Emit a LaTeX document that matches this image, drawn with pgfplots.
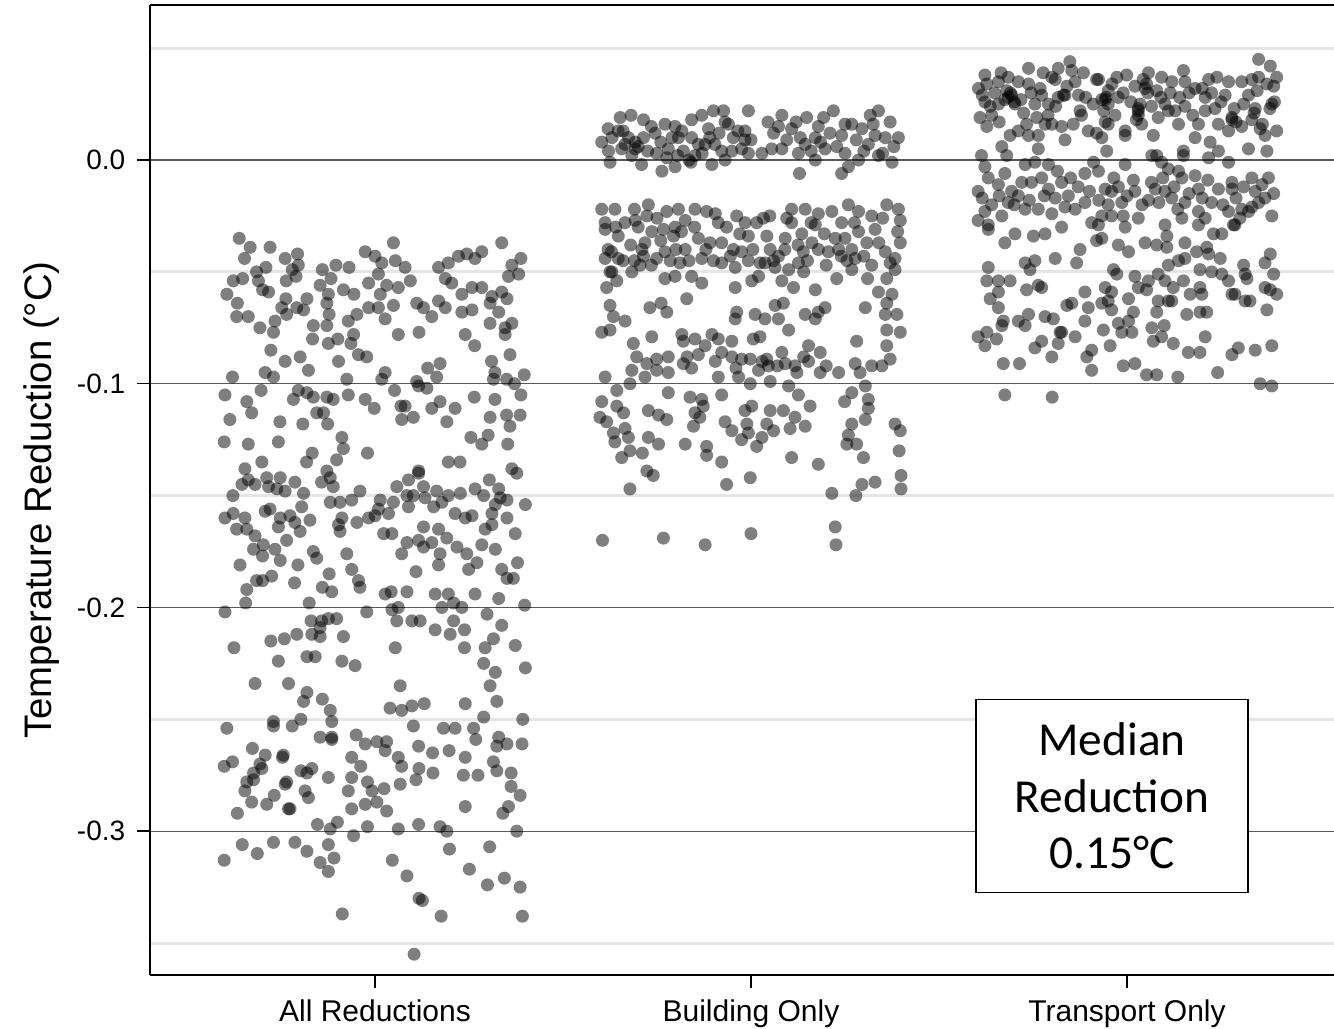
\documentclass[border=0pt]{standalone}
\usepackage{fontspec}
\setmainfont{Liberation Sans}
\newfontfamily\calibri{Carlito}
\usepackage{pgfplots}
\pgfplotsset{compat=1.18}
\begin{document}
\begin{tikzpicture}
\begin{axis}[
  name=ax,
  scale only axis,
  width=355.2pt, height=291pt,
  xmin=0.4016, xmax=3.5505,
  ymin=-0.3643, ymax=0.0693,
  axis x line*=bottom, axis y line*=left,
  axis line style={black, line width=0.45pt, -},
  xtick={1,2,3},
  xticklabels={All Reductions, Building Only, Transport Only},
  ytick={-0.3,-0.2,-0.1,0},
  yticklabels={-0.3,-0.2,-0.1,0.0},
  minor ytick={-0.35,-0.25,-0.15,-0.05,0.05},
  ymajorgrids, yminorgrids,
  major grid style={line width=0.35pt, color=black!65},
  minor grid style={line width=0.9pt, color=black!10},
  tick align=outside,
  major tick length=3.9pt,
  minor tick length=0pt,
  tick style={black, line width=0.45pt},
  xticklabel style={font=\fontsize{9}{10}\selectfont},
  yticklabel style={font=\fontsize{8.4}{9}\selectfont},
  ylabel={Temperature Reduction (°C)},
  ylabel style={font=\fontsize{11.5}{13}\selectfont, yshift=-1.5pt, xshift=-3pt},
  pt/.style={only marks, mark=*, mark size=1.95pt,
    mark options={fill=black, fill opacity=0.5, draw opacity=0}},
]
% All Reductions
\addplot[pt] coordinates {
(0.639,-0.035) (0.668,-0.039) (0.653,-0.044) (0.721,-0.039) (0.761,-0.044) (0.794,-0.042) (0.796,-0.047) (0.780,-0.049)
(0.790,-0.052) (0.685,-0.050) (0.710,-0.048) (0.623,-0.054) (0.648,-0.053) (0.690,-0.054) (0.701,-0.058) (0.717,-0.059)
(0.606,-0.060) (0.634,-0.064) (0.632,-0.070) (0.663,-0.070) (0.694,-0.075) (0.730,-0.077) (0.734,-0.072) (0.752,-0.066)
(0.765,-0.069) (0.792,-0.066) (0.810,-0.067) (0.819,-0.062) (0.763,-0.062) (0.764,-0.054) (0.860,-0.049) (0.896,-0.047)
(0.931,-0.048) (0.883,-0.053) (0.854,-0.056) (0.876,-0.060) (0.872,-0.064) (0.878,-0.069) (0.836,-0.074) (0.872,-0.074)
(0.834,-0.080) (0.876,-0.082) (0.901,-0.080) (0.916,-0.058) (0.944,-0.060) (0.952,-0.069) (0.929,-0.072) (0.943,-0.078)
(0.936,-0.082) (0.974,-0.041) (1.000,-0.043) (1.049,-0.037) (1.018,-0.046) (1.054,-0.045) (1.080,-0.048) (1.009,-0.051)
(1.031,-0.056) (1.014,-0.060) (1.062,-0.057) (1.094,-0.054) (0.983,-0.055) (0.983,-0.066) (1.009,-0.066) (1.027,-0.071)
(1.049,-0.065) (1.111,-0.064) (1.129,-0.066) (1.151,-0.070) (1.062,-0.078) (1.117,-0.077) (1.169,-0.048) (1.195,-0.046)
(1.222,-0.043) (1.244,-0.042) (1.266,-0.044) (1.284,-0.041) (1.337,-0.037) (1.364,-0.047) (1.388,-0.044) (1.382,-0.051)
(1.355,-0.052) (1.187,-0.053) (1.204,-0.055) (1.231,-0.060) (1.258,-0.057) (1.284,-0.057) (1.311,-0.061) (1.306,-0.064)
(1.337,-0.059) (1.351,-0.062) (1.329,-0.068) (1.258,-0.067) (1.231,-0.068) (1.187,-0.066) (1.169,-0.063) (1.306,-0.073)
(1.346,-0.075) (1.364,-0.073) (1.240,-0.078) (1.265,-0.083) (1.346,-0.078)
(0.723,-0.085) (0.761,-0.090) (0.801,-0.088) (0.823,-0.094) (0.708,-0.095) (0.730,-0.097) (0.621,-0.097) (0.697,-0.103)
(0.601,-0.105) (0.659,-0.108) (0.672,-0.113) (0.783,-0.107) (0.796,-0.103) (0.819,-0.104) (0.836,-0.106) (0.872,-0.106)
(0.889,-0.107) (0.845,-0.113) (0.863,-0.113) (0.874,-0.118) (0.929,-0.105) (0.925,-0.098) (0.903,-0.090) (0.956,-0.087)
(0.978,-0.088) (0.974,-0.107) (0.998,-0.111) (0.614,-0.116) (0.747,-0.117) (0.808,-0.118) (0.599,-0.126) (0.663,-0.127)
(0.743,-0.126) (0.912,-0.124) (0.916,-0.129) (0.833,-0.131) (0.818,-0.135) (0.898,-0.134) (0.872,-0.139) (0.980,-0.131)
(1.018,-0.098) (1.027,-0.095) (1.052,-0.103) (1.069,-0.110) (1.080,-0.110) (1.071,-0.116) (1.102,-0.115) (1.116,-0.101)
(1.111,-0.099) (1.138,-0.102) (1.140,-0.093) (1.173,-0.091) (1.164,-0.097) (1.173,-0.108) (1.151,-0.111) (1.213,-0.111)
(1.191,-0.117) (1.264,-0.106) (1.319,-0.107) (1.306,-0.115) (1.350,-0.114) (1.386,-0.114) (1.359,-0.119) (1.310,-0.090)
(1.319,-0.095) (1.315,-0.098) (1.350,-0.098) (1.371,-0.100) (1.388,-0.105) (1.397,-0.096) (1.359,-0.087) (1.255,-0.124)
(1.284,-0.127) (1.301,-0.123) (1.353,-0.127) (1.195,-0.135) (1.226,-0.135) (0.699,-0.135) (0.654,-0.138) (1.116,-0.139)
(1.364,-0.138)
(0.646,-0.145) (0.663,-0.143) (0.681,-0.145) (0.712,-0.142) (0.748,-0.142) (0.717,-0.146) (0.739,-0.147) (0.761,-0.148)
(0.787,-0.144) (0.810,-0.149) (0.805,-0.155) (0.858,-0.144) (0.881,-0.142) (0.889,-0.146) (0.622,-0.150) (0.623,-0.158)
(0.601,-0.160) (0.654,-0.160) (0.632,-0.165) (0.659,-0.165) (0.681,-0.168) (0.708,-0.157) (0.721,-0.156) (0.748,-0.160)
(0.774,-0.159) (0.787,-0.162) (0.801,-0.166) (0.827,-0.161) (0.743,-0.164) (0.765,-0.170) (0.703,-0.172) (0.677,-0.174)
(0.734,-0.174) (0.748,-0.179) (0.701,-0.177) (0.641,-0.181) (0.685,-0.188) (0.725,-0.186) (0.701,-0.188) (0.659,-0.192)
(0.656,-0.198) (0.601,-0.202) (0.625,-0.218) (0.795,-0.181) (0.786,-0.189) (0.836,-0.175) (0.845,-0.178) (0.878,-0.185)
(0.860,-0.191) (0.885,-0.193) (0.825,-0.198) (0.881,-0.153) (0.907,-0.153) (0.938,-0.152) (0.960,-0.148) (0.912,-0.160)
(0.903,-0.163) (0.907,-0.166) (0.952,-0.162) (0.983,-0.160) (1.000,-0.159) (1.014,-0.152) (1.009,-0.156) (1.036,-0.158)
(1.049,-0.153) (1.023,-0.167) (1.045,-0.167) (1.058,-0.146) (1.089,-0.143) (1.116,-0.140) (1.129,-0.146) (1.085,-0.150)
(1.089,-0.155) (1.102,-0.150) (1.133,-0.151) (1.164,-0.148) (1.156,-0.155) (1.195,-0.150) (1.178,-0.153) (1.227,-0.149)
(1.213,-0.158) (1.240,-0.160) (1.258,-0.159) (1.266,-0.147) (1.304,-0.143) (1.289,-0.150) (1.329,-0.147) (1.333,-0.151)
(1.351,-0.152) (1.320,-0.154) (1.311,-0.158) (1.351,-0.160) (1.400,-0.154) (1.377,-0.140) (1.293,-0.165) (1.311,-0.163)
(1.373,-0.167) (1.129,-0.164) (1.116,-0.170) (1.129,-0.173) (1.151,-0.171) (1.169,-0.165) (1.191,-0.169) (1.218,-0.173)
(1.244,-0.176) (1.284,-0.172) (1.320,-0.174) (1.173,-0.176) (1.169,-0.181) (1.249,-0.183) (1.271,-0.180) (1.337,-0.183)
(1.351,-0.187) (1.368,-0.187) (1.379,-0.180) (1.085,-0.171) (1.071,-0.176) (1.109,-0.184) (0.925,-0.176) (0.938,-0.183)
(0.956,-0.188) (0.960,-0.191) (1.027,-0.194) (1.043,-0.193) (1.085,-0.193) (1.045,-0.201) (1.062,-0.200) (1.058,-0.206)
(1.098,-0.206) (1.120,-0.206) (0.978,-0.202) (1.160,-0.194) (1.195,-0.194) (1.209,-0.198) (1.231,-0.200) (1.178,-0.200)
(1.266,-0.194) (1.329,-0.196) (1.398,-0.199) (1.298,-0.203) (1.337,-0.208) (1.315,-0.214) (1.293,-0.218) (1.373,-0.217)
(1.209,-0.206) (1.238,-0.210) (1.200,-0.212) (1.160,-0.210) (1.238,-0.218) (1.289,-0.225) (1.320,-0.229) (1.306,-0.235)
(1.400,-0.227) (0.830,-0.206) (0.858,-0.206) (0.876,-0.205) (0.898,-0.205) (0.854,-0.209) (0.832,-0.212) (0.854,-0.213)
(0.792,-0.212) (0.759,-0.214) (0.723,-0.215) (0.916,-0.213) (0.819,-0.222) (0.841,-0.222) (0.743,-0.224) (0.912,-0.224)
(0.947,-0.226) (1.054,-0.218) (0.681,-0.234) (0.770,-0.234) (0.819,-0.238) (0.810,-0.242) (0.860,-0.241) (0.881,-0.246)
(1.067,-0.235) (1.040,-0.245) (1.071,-0.246) (1.098,-0.244) (1.131,-0.243) (1.240,-0.243) (1.324,-0.242)
(0.606,-0.254) (0.730,-0.251) (0.730,-0.253) (0.780,-0.253) (0.803,-0.250) (0.885,-0.251) (0.854,-0.258) (0.885,-0.258)
(0.885,-0.259) (0.674,-0.263) (0.708,-0.266) (0.754,-0.267) (0.756,-0.266) (0.621,-0.269) (0.599,-0.271) (0.694,-0.270)
(0.677,-0.274) (0.699,-0.272) (0.659,-0.278) (0.677,-0.277) (0.654,-0.282) (0.672,-0.287) (0.712,-0.288) (0.732,-0.284)
(0.761,-0.279) (0.765,-0.278) (0.770,-0.290) (0.774,-0.290) (0.803,-0.273) (0.819,-0.274) (0.832,-0.272) (0.814,-0.282)
(0.823,-0.285) (0.876,-0.276) (0.634,-0.292) (0.647,-0.306) (0.687,-0.310) (0.599,-0.313) (0.730,-0.305) (0.787,-0.305)
(0.819,-0.309) (0.854,-0.314) (0.876,-0.318) (0.891,-0.312) (0.876,-0.306) (0.847,-0.297) (0.881,-0.299) (0.900,-0.296)
(0.938,-0.267) (0.962,-0.271) (0.950,-0.257) (0.974,-0.261) (1.005,-0.260) (1.031,-0.260) (1.027,-0.264) (1.062,-0.267)
(1.071,-0.271) (0.938,-0.276) (0.929,-0.282) (0.980,-0.278) (0.992,-0.282) (1.005,-0.287) (0.974,-0.288) (0.938,-0.290)
(1.024,-0.281) (1.067,-0.279) (1.031,-0.291) (0.980,-0.298) (0.943,-0.302) (1.062,-0.299) (1.116,-0.297) (1.102,-0.253)
(1.116,-0.262) (1.117,-0.272) (1.153,-0.265) (1.154,-0.274) (1.109,-0.277) (1.182,-0.254) (1.213,-0.254) (1.197,-0.264)
(1.240,-0.267) (1.235,-0.275) (1.274,-0.275) (1.262,-0.254) (1.268,-0.259) (1.289,-0.249) (1.329,-0.258) (1.324,-0.262)
(1.351,-0.261) (1.315,-0.269) (1.324,-0.273) (1.362,-0.274) (1.362,-0.280) (1.386,-0.284) (1.391,-0.261) (1.393,-0.250)
(1.240,-0.289) (1.355,-0.289) (1.340,-0.292) (1.173,-0.298) (1.191,-0.300) (1.198,-0.308) (1.305,-0.307) (1.377,-0.300)
(1.046,-0.313) (1.085,-0.320) (1.117,-0.330) (1.126,-0.331) (1.251,-0.317) (1.299,-0.324) (1.344,-0.321) (1.386,-0.325)
(0.913,-0.337) (1.176,-0.338) (1.392,-0.338) (1.104,-0.355)
};
% Building Only
\addplot[pt] coordinates {
(1.652,0.019) (1.681,0.020) (1.714,0.018) (1.647,0.013) (1.674,0.010) (1.692,0.008) (1.714,0.010) (1.665,0.007)
(1.603,0.008) (1.621,0.004) (1.625,-0.001) (1.656,0.005) (1.683,0.002) (1.709,-0.002) (1.692,0.005) (1.745,0.012)
(1.771,0.016) (1.798,0.015) (1.749,0.003) (1.763,-0.005) (1.776,0.001) (1.798,-0.003) (1.780,0.005) (1.807,0.010)
(1.816,0.013) (1.842,0.018) (1.869,0.020) (1.900,0.022) (1.927,0.022) (1.931,0.017) (1.887,0.014) (1.842,0.010)
(1.860,0.007) (1.878,0.007) (1.904,0.007) (1.851,0.002) (1.896,-0.002) (1.931,0.000) (1.922,0.004) (1.953,0.010)
(1.984,0.013) (1.984,0.009) (1.975,0.005) (1.993,0.003) (1.949,0.004) (1.993,0.022) (2.045,0.017) (2.029,0.003)
(2.055,0.005) (2.082,0.005) (2.073,0.015) (2.082,0.020) (2.108,0.014) (2.131,0.010) (2.148,0.019) (2.179,0.015)
(2.193,0.019) (2.219,0.022) (2.171,0.010) (2.144,0.007) (2.126,0.003) (2.171,0.000) (2.197,0.005) (2.228,0.006)
(2.250,0.003) (2.241,0.011) (2.268,0.016) (2.295,0.014) (2.317,0.020) (2.339,0.022) (2.370,0.017) (2.330,0.011)
(2.357,0.010) (2.392,0.010) (2.312,0.007) (2.339,0.002) (2.375,-0.001) (2.286,0.000) (2.259,-0.003) (2.241,-0.006)
(2.129,-0.006)
(1.630,0.010) (1.660,0.013) (1.700,0.006) (1.725,0.004) (1.735,0.015) (1.760,0.008) (1.790,0.010) (1.820,0.004)
(1.835,0.000) (1.870,0.003) (1.890,0.010) (1.915,0.012) (1.940,0.016) (1.965,0.013) (2.000,0.009) (2.060,0.012)
(2.095,0.009) (2.120,0.017) (2.160,0.004) (2.185,0.008) (2.210,0.012) (2.250,0.016) (2.280,0.009) (2.300,0.004)
(2.325,0.016) (2.350,0.003) (2.380,0.006) (1.620,0.014) (1.840,-0.001) (1.805,0.002)
(1.603,-0.022) (1.638,-0.022) (1.612,-0.028) (1.612,-0.031) (1.647,-0.034) (1.690,-0.022) (1.727,-0.020) (1.692,-0.027)
(1.723,-0.025) (1.665,-0.028) (1.629,-0.041) (1.612,-0.044) (1.647,-0.044) (1.625,-0.050) (1.643,-0.054) (1.616,-0.057)
(1.683,-0.050) (1.714,-0.043) (1.705,-0.047) (1.736,-0.032) (1.718,-0.037) (1.749,-0.044) (1.771,-0.041) (1.794,-0.034)
(1.776,-0.023) (1.807,-0.022) (1.825,-0.027) (1.851,-0.022) (1.882,-0.023) (1.798,-0.030) (1.767,-0.031) (1.825,-0.040)
(1.811,-0.046) (1.771,-0.053) (1.798,-0.052) (1.842,-0.052) (1.869,-0.055) (1.869,-0.044) (1.860,-0.035) (1.891,-0.037)
(1.922,-0.037) (1.913,-0.028) (1.962,-0.025) (1.984,-0.028) (1.993,-0.034) (2.033,-0.026) (1.975,-0.041) (1.953,-0.040)
(1.922,-0.046) (1.958,-0.048) (1.993,-0.045) (2.024,-0.046) (2.042,-0.034) (2.020,-0.052) (2.002,-0.054) (1.958,-0.057)
(2.051,-0.040) (2.073,-0.043) (2.091,-0.035) (2.108,-0.022) (2.144,-0.022) (2.179,-0.024) (2.108,-0.028) (2.135,-0.033)
(2.162,-0.037) (2.171,-0.029) (2.215,-0.023) (2.241,-0.028) (2.259,-0.020) (2.286,-0.023) (2.321,-0.025) (2.361,-0.020)
(2.392,-0.022) (2.397,-0.027) (2.286,-0.032) (2.308,-0.037) (2.330,-0.031) (2.224,-0.035) (2.233,-0.040) (2.206,-0.041)
(2.179,-0.040) (2.139,-0.041) (2.126,-0.046) (2.100,-0.049) (2.064,-0.048) (2.037,-0.046) (2.082,-0.054) (2.113,-0.057)
(2.171,-0.058) (2.228,-0.053) (2.268,-0.049) (2.277,-0.044) (2.321,-0.047) (2.357,-0.041) (2.383,-0.044) (2.397,-0.037)
(2.383,-0.049) (2.361,-0.053) (2.339,-0.059) (2.375,-0.060) (2.361,-0.064) (2.304,-0.066) (2.268,-0.040)
(1.620,-0.040) (1.640,-0.030) (1.660,-0.045) (1.680,-0.038) (1.700,-0.030) (1.710,-0.040) (1.735,-0.047) (1.750,-0.026)
(1.760,-0.036) (1.785,-0.045) (1.800,-0.040) (1.815,-0.032) (1.835,-0.045) (1.850,-0.030) (1.880,-0.040) (1.900,-0.045)
(1.905,-0.024) (1.935,-0.030) (1.945,-0.043) (1.970,-0.033) (2.005,-0.040) (2.015,-0.028) (2.050,-0.025) (2.060,-0.045)
(2.090,-0.040) (2.095,-0.026) (2.125,-0.038) (2.150,-0.045) (2.160,-0.028) (2.195,-0.033) (2.200,-0.047) (2.250,-0.035)
(2.255,-0.045) (2.275,-0.028) (2.300,-0.043) (2.340,-0.037) (2.350,-0.026) (2.370,-0.046) (2.390,-0.032) (2.310,-0.053)
(1.630,-0.050) (1.690,-0.045) (2.140,-0.050) (2.240,-0.043)
(1.625,-0.065) (1.634,-0.070) (1.665,-0.072) (1.731,-0.066) (1.761,-0.064) (1.776,-0.068) (1.829,-0.062) (1.962,-0.068)
(1.958,-0.071) (2.011,-0.069) (2.037,-0.071) (2.064,-0.065) (2.086,-0.064) (2.073,-0.071) (2.144,-0.069) (2.179,-0.068)
(2.197,-0.066) (2.171,-0.071) (2.357,-0.069) (2.388,-0.069)
(1.603,-0.077) (1.625,-0.076) (1.687,-0.082) (1.736,-0.079) (1.816,-0.078) (1.820,-0.081) (1.851,-0.080) (1.896,-0.078)
(1.913,-0.080) (1.949,-0.081) (2.006,-0.080) (2.024,-0.079) (2.100,-0.076) (1.696,-0.088) (1.683,-0.094) (1.723,-0.091)
(1.749,-0.089) (1.780,-0.088) (1.749,-0.094) (1.780,-0.095) (1.718,-0.097) (1.612,-0.097) (1.678,-0.100) (1.820,-0.091)
(1.842,-0.093) (1.860,-0.087) (1.878,-0.083) (1.922,-0.086) (1.949,-0.088) (1.975,-0.089) (1.998,-0.089) (2.042,-0.089)
(2.020,-0.094) (2.046,-0.092) (2.082,-0.086) (2.091,-0.091) (2.117,-0.092) (2.153,-0.083) (2.153,-0.090) (2.184,-0.086)
(2.122,-0.095) (2.184,-0.095) (2.233,-0.095) (2.281,-0.081) (2.277,-0.091) (2.290,-0.095) (2.321,-0.092) (2.348,-0.092)
(2.370,-0.089) (2.361,-0.083) (2.397,-0.077) (2.361,-0.076) (1.967,-0.097) (1.998,-0.100) (2.051,-0.099) (1.913,-0.097)
(1.830,-0.088) (1.905,-0.090) (1.960,-0.093) (2.030,-0.090) (2.070,-0.092) (2.140,-0.088) (2.200,-0.092)
(1.922,-0.105) (2.100,-0.101) (2.126,-0.105) (2.157,-0.110) (1.780,-0.104) (1.643,-0.103) (1.603,-0.108) (1.643,-0.110)
(1.661,-0.113) (1.598,-0.115) (1.616,-0.117) (1.634,-0.122) (1.638,-0.126) (1.665,-0.120) (1.674,-0.124) (1.678,-0.130)
(1.656,-0.133) (1.711,-0.131) (1.727,-0.124) (1.754,-0.127) (1.723,-0.139) (1.740,-0.141) (1.678,-0.147) (1.727,-0.112)
(1.754,-0.114) (1.776,-0.116) (1.838,-0.106) (1.869,-0.107) (1.873,-0.110) (1.851,-0.113) (1.864,-0.115) (1.847,-0.119)
(1.825,-0.127) (1.882,-0.128) (1.882,-0.132) (1.922,-0.135) (1.931,-0.117) (1.949,-0.121) (1.975,-0.125) (1.993,-0.122)
(1.984,-0.112) (2.002,-0.110) (1.989,-0.118) (2.015,-0.128) (2.029,-0.124) (2.042,-0.118) (2.060,-0.121) (2.051,-0.112)
(2.086,-0.112) (2.104,-0.120) (2.117,-0.115) (2.144,-0.119) (2.108,-0.133) (2.179,-0.136) (2.249,-0.108) (2.268,-0.104)
(2.304,-0.101) (2.312,-0.107) (2.312,-0.111) (2.304,-0.116) (2.268,-0.118) (2.259,-0.123) (2.255,-0.127) (2.281,-0.127)
(2.299,-0.133) (2.383,-0.118) (2.397,-0.121) (2.394,-0.130) (2.399,-0.141) (2.399,-0.147) (2.330,-0.144) (2.295,-0.145)
(2.215,-0.149) (2.279,-0.150) (1.998,-0.142) (1.935,-0.145) (1.605,-0.170) (1.767,-0.169) (1.878,-0.172) (2.000,-0.167)
(2.224,-0.164) (2.226,-0.172)
};
% Transport Only
\addplot[pt] coordinates {
(2.622,0.038) (2.665,0.039) (2.605,0.032) (2.627,0.034) (2.658,0.035) (2.684,0.037) (2.711,0.035) (2.693,0.029)
(2.675,0.027) (2.622,0.026) (2.636,0.024) (2.609,0.019) (2.627,0.015) (2.658,0.025) (2.702,0.025) (2.738,0.041)
(2.777,0.039) (2.800,0.037) (2.817,0.041) (2.848,0.044) (2.853,0.040) (2.884,0.039) (2.773,0.029) (2.755,0.025)
(2.791,0.025) (2.817,0.028) (2.835,0.029) (2.871,0.029) (2.875,0.022) (2.809,0.036) (2.738,0.034) (2.689,0.011)
(2.711,0.013) (2.733,0.016) (2.738,0.011) (2.764,0.011) (2.782,0.016) (2.800,0.016) (2.826,0.015) (2.857,0.016)
(2.879,0.020) (2.835,0.009) (2.764,0.005) (2.667,0.006) (2.680,0.002) (2.924,0.036) (2.973,0.037) (2.999,0.038)
(2.950,0.031) (2.933,0.027) (2.950,0.025) (2.977,0.028) (2.968,0.020) (2.942,0.017) (2.919,0.012) (2.897,0.013)
(2.933,0.010) (2.950,0.016) (2.995,0.013) (3.030,0.023) (3.039,0.016) (3.030,0.020) (3.057,0.039) (3.048,0.032)
(3.052,0.034) (3.079,0.031) (3.021,0.033) (3.092,0.037) (3.119,0.035) (3.101,0.025) (3.128,0.022) (3.150,0.040)
(3.154,0.035) (3.137,0.016) (3.083,0.019) (3.070,0.011) (3.079,0.002) (3.150,0.004) (3.181,0.010) (3.190,0.016)
(3.181,0.032) (3.217,0.036) (3.239,0.037) (3.270,0.035) (3.208,0.028) (3.208,0.022) (3.234,0.023) (3.243,0.016)
(3.279,0.019) (3.305,0.015) (3.270,0.013) (3.261,0.029) (3.305,0.035) (3.332,0.036) (3.350,0.037) (3.350,0.045)
(3.381,0.042) (3.398,0.037) (3.390,0.033) (3.323,0.029) (3.341,0.023) (3.385,0.025) (3.332,0.018) (3.354,0.014)
(3.367,0.011) (3.398,0.013) (3.221,0.008) (3.243,0.004) (3.270,-0.001) (3.217,0.001) (3.323,0.005) (3.372,0.004)
(3.154,0.024) (2.995,0.011) (2.946,0.004) (2.919,0.036) (2.684,0.028) (3.030,0.022) (3.279,0.018) (2.942,0.027)
(2.831,0.029) (3.110,0.022)
(2.690,0.030) (2.700,0.026) (2.680,0.031) (2.648,0.030) (2.718,0.027) (2.745,0.030) (2.769,0.032) (2.790,0.020)
(2.810,0.024) (2.840,0.033) (2.862,0.035) (2.890,0.028) (2.910,0.025) (2.938,0.022) (2.944,0.028) (2.960,0.034)
(2.990,0.030) (3.010,0.026) (3.025,0.018) (3.035,0.025) (3.043,0.036) (3.055,0.030) (3.065,0.024) (3.090,0.028)
(3.115,0.030) (3.140,0.028) (3.165,0.030) (3.175,0.020) (3.200,0.032) (3.225,0.030) (3.250,0.026) (3.285,0.023)
(3.290,0.017) (3.310,0.025) (3.338,0.021) (3.360,0.016) (3.380,0.023) (3.392,0.026) (3.346,0.031) (3.372,0.034)
(2.615,0.029) (2.640,0.020) (2.660,0.017) (2.725,0.021) (2.760,0.019)
(2.613,0.002) (2.622,-0.003) (2.604,-0.014) (2.631,-0.008) (2.658,-0.011) (2.675,-0.006) (2.693,-0.014) (2.684,-0.019)
(2.711,-0.016) (2.667,-0.025) (2.622,-0.023) (2.631,-0.029) (2.604,-0.027) (2.729,-0.002) (2.755,-0.001) (2.791,-0.002)
(2.773,-0.008) (2.746,-0.010) (2.791,-0.013) (2.809,-0.017) (2.826,-0.010) (2.844,-0.016) (2.835,-0.021) (2.800,-0.024)
(2.764,-0.022) (2.729,-0.022) (2.862,-0.022) (2.888,-0.019) (2.911,-0.001) (2.888,-0.006) (2.924,-0.005) (2.942,-0.013)
(2.959,-0.014) (2.977,-0.012) (2.995,-0.002) (3.017,-0.009) (3.021,-0.014) (2.986,-0.019) (2.959,-0.025) (2.990,-0.025)
(2.933,-0.025) (2.906,-0.028) (3.030,-0.026) (3.057,-0.018) (3.075,-0.013) (3.101,-0.014) (3.119,-0.017) (3.146,-0.008)
(3.137,-0.005) (3.181,-0.007) (3.190,-0.013) (3.154,-0.019) (3.190,-0.023) (3.225,-0.019) (3.243,-0.013) (3.279,-0.013)
(3.208,-0.026) (3.270,-0.023) (3.305,-0.022) (3.332,-0.021) (3.279,-0.010) (3.332,-0.008) (3.359,-0.011) (3.376,-0.008)
(3.367,-0.017) (3.385,-0.025) (3.341,-0.014) (3.101,-0.029) (3.146,-0.026) (3.092,-0.001) (3.110,-0.004) (3.066,0.002)
(3.150,0.002) (3.287,-0.029) (3.323,-0.023)
(2.615,-0.017) (2.640,-0.020) (2.660,-0.016) (2.700,-0.020) (2.720,-0.010) (2.740,-0.018) (2.780,-0.016) (2.815,-0.005)
(2.850,-0.008) (2.870,-0.012) (2.900,-0.014) (2.925,-0.018) (2.950,-0.020) (2.965,-0.008) (3.000,-0.016) (3.040,-0.020)
(3.065,-0.010) (3.085,-0.019) (3.095,-0.008) (3.125,-0.012) (3.135,-0.022) (3.165,-0.015) (3.200,-0.017) (3.215,-0.009)
(3.255,-0.020) (3.290,-0.017) (3.310,-0.012) (3.350,-0.019) (3.390,-0.015) (3.300,-0.026)
(2.924,-0.029) (2.995,-0.030) (3.190,-0.029) (3.283,-0.029) (2.826,-0.030)
(2.631,-0.031) (2.675,-0.037) (2.702,-0.033) (2.751,-0.034) (2.782,-0.033) (2.919,-0.036) (2.933,-0.035) (2.977,-0.038)
(3.004,-0.041) (3.048,-0.037) (3.079,-0.038) (3.106,-0.039) (3.106,-0.034) (3.154,-0.037) (3.185,-0.041) (3.212,-0.039)
(3.230,-0.033) (3.252,-0.033) (3.217,-0.042) (3.248,-0.044) (2.875,-0.040) (2.866,-0.046) (2.809,-0.044) (2.729,-0.046)
(2.755,-0.045) (2.742,-0.049) (2.631,-0.048) (2.627,-0.054) (2.658,-0.054) (2.689,-0.054) (2.658,-0.059) (2.636,-0.062)
(2.658,-0.066) (2.733,-0.058) (2.764,-0.056) (2.773,-0.057) (2.840,-0.065) (2.853,-0.064) (2.888,-0.059) (2.897,-0.066)
(2.933,-0.064) (2.942,-0.057) (2.959,-0.059) (2.950,-0.063) (2.964,-0.049) (2.973,-0.051) (3.004,-0.062) (3.021,-0.052)
(3.030,-0.057) (3.052,-0.058) (3.057,-0.054) (3.083,-0.051) (3.101,-0.054) (3.110,-0.047) (3.137,-0.045) (3.154,-0.044)
(3.150,-0.054) (3.083,-0.063) (3.110,-0.063) (3.123,-0.057) (3.119,-0.063) (3.079,-0.068) (3.017,-0.068) (3.004,-0.072)
(2.977,-0.073) (2.959,-0.067) (2.986,-0.077) (3.013,-0.077) (2.937,-0.076) (2.955,-0.083) (2.888,-0.072) (2.862,-0.079)
(2.822,-0.077) (2.817,-0.082) (2.804,-0.071) (2.782,-0.070) (2.773,-0.081) (2.755,-0.084) (2.738,-0.069) (2.729,-0.074)
(2.711,-0.072) (2.671,-0.072) (2.667,-0.074) (2.627,-0.077) (2.604,-0.079) (2.622,-0.083) (2.653,-0.080) (2.671,-0.091)
(2.714,-0.091) (2.800,-0.088) (2.826,-0.077) (2.906,-0.085) (2.893,-0.088) (2.906,-0.094) (2.990,-0.092) (3.021,-0.091)
(3.052,-0.096) (3.079,-0.096) (3.135,-0.097) (3.066,-0.075) (3.099,-0.074) (3.092,-0.079) (3.070,-0.081) (3.123,-0.082)
(3.163,-0.086) (3.194,-0.086) (3.208,-0.079) (3.159,-0.069) (3.194,-0.068) (3.212,-0.068) (3.168,-0.060) (3.199,-0.060)
(3.194,-0.057) (3.194,-0.049) (3.225,-0.050) (3.252,-0.051) (3.270,-0.054) (3.279,-0.060) (3.287,-0.060) (3.314,-0.063)
(3.327,-0.063) (3.310,-0.047) (3.314,-0.051) (3.319,-0.053) (3.367,-0.046) (3.381,-0.042) (3.390,-0.051) (3.367,-0.057)
(3.381,-0.058) (3.398,-0.060) (3.372,-0.067) (3.296,-0.084) (3.279,-0.087) (3.341,-0.085) (3.385,-0.083) (3.241,-0.095)
(3.354,-0.100) (3.385,-0.101) (2.675,-0.105) (2.801,-0.106)
};
\node[draw=black, line width=0.45pt, fill=white, minimum width=81.6pt, minimum height=57.9pt,
  align=center, inner sep=0pt, font=\calibri\fontsize{14.2}{17}\selectfont]
  at (axis cs:2.96,-0.2843) {Median\\Reduction\\0.15°C};
\end{axis}
\draw[black, line width=0.45pt] (ax.north west) -- (ax.north east);
\pgfresetboundingbox
\path[use as bounding box] ([xshift=-45pt,yshift=-15.9pt]ax.south west) rectangle ([yshift=1.5pt]ax.north east);
\end{tikzpicture}
\end{document}
